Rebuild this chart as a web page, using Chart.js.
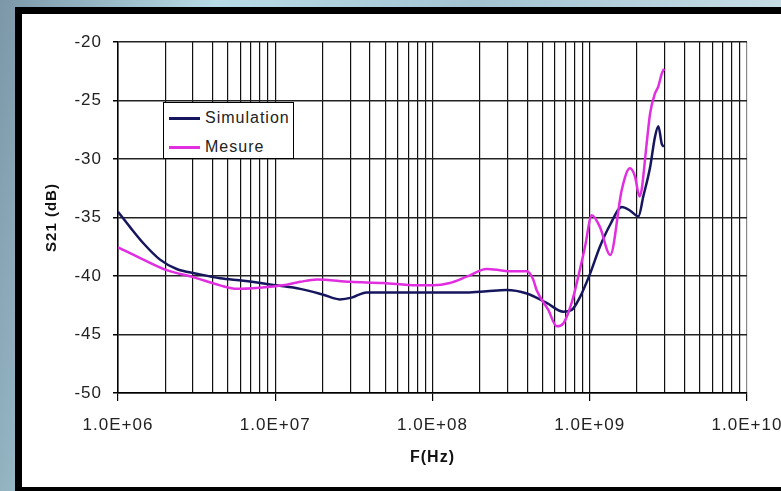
<!DOCTYPE html>
<html>
<head>
<meta charset="utf-8">
<script src="https://cdn.jsdelivr.net/npm/chart.js@4.4.1/dist/chart.umd.min.js"></script>
<style>
  html, body { margin: 0; padding: 0; }
  body {
    width: 781px; height: 491px; overflow: hidden; position: relative;
    background: linear-gradient(100deg, #7b97a8 0%, #b7dbe6 25%, #a3c3d2 55%, #cfe3ea 100%);
  }
  #frame {
    position: absolute; left: 15px; top: 7px; width: 800px; height: 473px;
    border: 7px solid #000; border-right: none; background: #fff;
  }
  #chart { position: absolute; left: 0; top: 0; }
  #legend {
    position: absolute; left: 163px; top: 102px; width: 129px; height: 55px;
    border: 1px solid #000; background: #fff;
    font: 16px "Liberation Sans", Arial, sans-serif; letter-spacing: 1px; color: #222;
  }
  .row { position: absolute; left: 5px; height: 20px; line-height: 20px; white-space: nowrap; }
  .swatch { display: inline-block; width: 31px; height: 3px; vertical-align: middle; margin-right: 5px; }
</style>
</head>
<body>
<div id="frame"></div>
<canvas id="chart" width="781" height="491"></canvas>
<div id="legend"></div>
<script>
// axis ticks
const decades = [1e6, 1e7, 1e8, 1e9, 1e10];
const decadeLabels = ["1.0E+06", "1.0E+07", "1.0E+08", "1.0E+09", "1.0E+10"];
const minorSteps = [2, 3, 4, 5, 6, 7, 8, 9];
const yTicks = [-50, -45, -40, -35, -30, -25, -20];

// series
const seriesNames = ["Simulation", "Mesure"];
const seriesColors = ["#16165e", "#e02ee0"];

const simFreq = [1.0e6, 1.19e6, 1.45e6, 1.85e6, 2.36e6, 3.16e6, 4.46e6, 6.27e6, 1.02e7, 1.44e7,
  2.02e7, 2.57e7, 3.06e7, 3.8e7, 6.17e7, 1.65e8, 2.21e8, 2.95e8, 3.98e8, 5.32e8,
  6.79e8, 7.67e8, 8.67e8, 1.005e9, 1.16e9, 1.35e9, 1.6e9, 1.8e9, 2.04e9, 2.19e9,
  2.42e9, 2.6e9, 2.73e9, 2.87e9, 2.97e9];
const simDb = [-34.5, -35.8, -37.2, -38.6, -39.4, -39.8, -40.2, -40.4, -40.8, -41.1,
  -41.6, -42.0, -41.85, -41.4, -41.4, -41.4, -41.3, -41.2, -41.5, -42.3,
  -43.05, -42.9, -41.8, -39.8, -37.5, -35.6, -34.1, -34.4, -34.9, -33.2,
  -30.7, -28.1, -27.2, -28.7, -28.95];

const mesFreq = [1.0e6, 1.45e6, 2.04e6, 3.01e6, 4.46e6, 5.69e6, 8.0e6, 1.12e7, 1.44e7, 1.84e7,
  2.99e7, 4.86e7, 7.94e7, 1.01e8, 1.29e8, 1.65e8, 2.21e8, 2.69e8, 3.09e8, 3.98e8,
  4.37e8, 4.59e8, 5.45e8, 6.17e8, 6.79e8, 7.67e8, 8.45e8, 9.33e8, 1.03e9, 1.16e9,
  1.35e9, 1.6e9, 1.8e9, 1.94e9, 2.07e9, 2.14e9, 2.3e9, 2.42e9, 2.6e9, 2.73e9,
  2.87e9, 2.97e9];
const mesDb = [-37.55, -38.6, -39.5, -40.1, -40.8, -41.1, -41.0, -40.8, -40.5, -40.3,
  -40.5, -40.6, -40.8, -40.8, -40.6, -40.06, -39.4, -39.5, -39.6, -39.6,
  -40.3, -41.2, -42.9, -44.3, -44.05, -42.3, -40.06, -37.5, -34.8, -35.8,
  -38.2, -32.6, -30.8, -31.5, -33.2, -32.6, -28.7, -26.1, -24.4, -23.8,
  -22.7, -22.3];

const font = "Liberation Sans";

const letterSpacing = {
  id: "letterSpacing",
  beforeDraw(chart) {
    chart.ctx.letterSpacing = "1px";
  },
};

const ctx = document.getElementById("chart").getContext("2d");
const chart = new Chart(ctx, {
  type: "line",
  data: {
    datasets: [
      {
        label: seriesNames[0],
        data: simFreq.map((f, i) => ({ x: f, y: simDb[i] })),
        borderColor: seriesColors[0],
        borderWidth: 2.5,
        pointRadius: 0,
        cubicInterpolationMode: "monotone",
        order: 1,
      },
      {
        label: seriesNames[1],
        data: mesFreq.map((f, i) => ({ x: f, y: mesDb[i] })),
        borderColor: seriesColors[1],
        borderWidth: 2.5,
        pointRadius: 0,
        cubicInterpolationMode: "monotone",
        order: 0,
      },
    ],
  },
  options: {
    responsive: false,
    animation: false,
    layout: { padding: { left: 0, top: 42, right: 34, bottom: 0 } },
    plugins: {
      legend: { display: false },
      tooltip: { enabled: false },
    },
    scales: {
      x: {
        type: "logarithmic",
        min: 1e6,
        max: 1e10,
        afterBuildTicks: (scale) => {
          const ticks = [];
          decades.forEach((d, i) => {
            ticks.push({ value: d });
            if (i < decades.length - 1) {
              minorSteps.forEach((m) => ticks.push({ value: d * m }));
            }
          });
          scale.ticks = ticks;
        },
        afterFit: (scale) => {
          scale.height = 98;
          scale.paddingLeft = 0;
          scale.paddingRight = 0;
        },
        ticks: {
          autoSkip: false,
          maxRotation: 0,
          padding: 14,
          color: "#222",
          font: { family: font, size: 17 },
          callback: (value) => {
            const i = decades.indexOf(value);
            return i >= 0 ? decadeLabels[i] : "";
          },
        },
        grid: {
          color: (c) => (c.tick && c.tick.value === 1e10 ? "#8a8a8a" : "#111"),
          lineWidth: 1.2,
          tickLength: 8,
          tickColor: (c) =>
            c.tick && decades.includes(c.tick.value) ? "#000" : "rgba(0,0,0,0)",
        },
        border: { color: "#000", width: 1.5 },
        title: {
          display: true,
          text: "F(Hz)",
          color: "#111",
          font: { family: font, size: 16, weight: "bold" },
          padding: { top: 0, bottom: 24 },
        },
      },
      y: {
        min: -50,
        max: -20,
        afterBuildTicks: (scale) => {
          scale.ticks = yTicks.map((v) => ({ value: v }));
        },
        afterFit: (scale) => {
          scale.width = 118;
        },
        ticks: {
          padding: 11,
          color: "#222",
          font: { family: font, size: 17 },
        },
        grid: {
          color: "#222",
          lineWidth: 1.5,
          tickLength: 5,
          tickColor: "#000",
        },
        border: { color: "#000", width: 1.5 },
        title: {
          display: true,
          text: "S21 (dB)",
          color: "#111",
          font: { family: font, size: 15, weight: "bold" },
          padding: { top: 43, bottom: 0 },
        },
      },
    },
  },
  plugins: [letterSpacing],
});

// legend box
const legend = document.getElementById("legend");
chart.data.datasets.forEach((ds, i) => {
  const row = document.createElement("div");
  row.className = "row";
  row.style.top = (5 + i * 29) + "px";
  const sw = document.createElement("span");
  sw.className = "swatch";
  sw.style.background = ds.borderColor;
  row.appendChild(sw);
  row.appendChild(document.createTextNode(ds.label));
  legend.appendChild(row);
});
</script>
</body>
</html>
